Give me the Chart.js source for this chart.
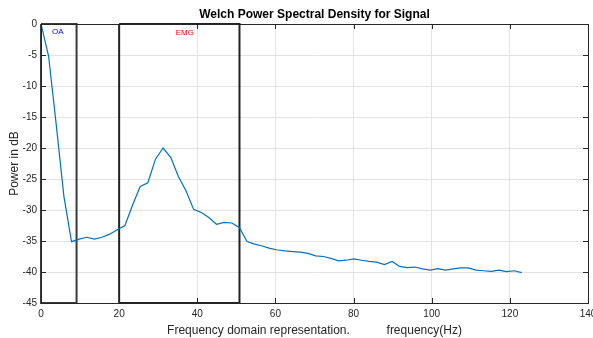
<!DOCTYPE html>
<html>
<head>
<meta charset="utf-8">
<script src="https://cdn.jsdelivr.net/npm/chart.js@4.4.1/dist/chart.umd.min.js"></script>
<style>
  body { margin: 0; background: #fff; }
  #wrap { width: 593px; height: 338px; }
</style>
</head>
<body>
<div id="wrap"><canvas id="psdChart"></canvas></div>
<script>
// Welch PSD estimate: frequency bins (Hz) and power (dB)
const freqHz = [
    0, 1.95, 3.91, 5.86, 7.81, 9.77, 11.72, 13.67, 15.63, 17.58,
    19.53, 21.48, 23.44, 25.39, 27.34, 29.30, 31.25, 33.20, 35.16, 37.11,
    39.06, 41.02, 42.97, 44.92, 46.88, 48.83, 50.78, 52.73, 54.69, 56.64,
    58.59, 60.55, 62.50, 64.45, 66.41, 68.36, 70.31, 72.27, 74.22, 76.17,
    78.13, 80.08, 82.03, 83.98, 85.94, 87.89, 89.84, 91.80, 93.75, 95.70,
    97.66, 99.61, 101.56, 103.52, 105.47, 107.42, 109.38, 111.33, 113.28, 115.23,
    117.19, 119.14, 121.09, 123.05
];
const powerDb = [
    0, -5.2, -16.3, -27.8, -35.1, -34.7, -34.4, -34.7, -34.4, -33.9,
    -33.2, -32.5, -29.2, -26.2, -25.6, -21.8, -20.0, -21.5, -24.6, -26.9,
    -29.9, -30.4, -31.2, -32.3, -32.0, -32.1, -32.8, -35.1, -35.5, -35.8,
    -36.2, -36.45, -36.6, -36.7, -36.8, -37.0, -37.4, -37.5, -37.8, -38.2,
    -38.1, -37.9, -38.1, -38.3, -38.4, -38.8, -38.3, -39.1, -39.3, -39.2,
    -39.5, -39.7, -39.45, -39.7, -39.5, -39.35, -39.35, -39.7, -39.8, -39.9,
    -39.7, -39.95, -39.8, -40.1
];

// marked frequency bands [from, to] in Hz and their labels
const oaBand = [0, 9.1];
const emgBand = [20, 50.8];
const bandLabels = ['OA', 'EMG'];
const bandLabelPos = [[4.3, -1.3], [36.8, -1.4]];
const bandLabelColors = ['#0000ff', '#ff0000'];

// axis limits
const xLimits = [0, 140];
const yLimits = [-45, 0];

const FONT = '"Liberation Sans", Arial, sans-serif';

function boxPoints(band) {
    return [
        { x: band[0], y: yLimits[1] },
        { x: band[1], y: yLimits[1] },
        { x: band[1], y: yLimits[0] },
        { x: band[0], y: yLimits[0] },
        { x: band[0], y: yLimits[1] }
    ];
}

const psdPoints = freqHz.map((f, i) => ({ x: f, y: powerDb[i] }));

// box outline, inward tick marks and band labels
const matlabAxes = {
    id: 'matlabAxes',
    afterDraw(chart) {
        const ctx = chart.ctx;
        const area = chart.chartArea;
        const xs = chart.scales.x;
        const ys = chart.scales.y;
        ctx.save();
        ctx.strokeStyle = '#262626';
        ctx.lineWidth = 1;
        ctx.beginPath();
        xs.ticks.forEach(t => {
            const px = Math.round(xs.getPixelForValue(t.value)) + 0.5;
            ctx.moveTo(px, area.bottom);
            ctx.lineTo(px, area.bottom - 5);
            ctx.moveTo(px, area.top);
            ctx.lineTo(px, area.top + 5);
        });
        ys.ticks.forEach(t => {
            const py = Math.round(ys.getPixelForValue(t.value)) + 0.5;
            ctx.moveTo(area.left, py);
            ctx.lineTo(area.left + 5, py);
            ctx.moveTo(area.right, py);
            ctx.lineTo(area.right - 5, py);
        });
        ctx.stroke();
        ctx.strokeRect(Math.round(area.left) + 0.5, Math.round(area.top) + 0.5,
            Math.round(area.right - area.left), Math.round(area.bottom - area.top));

        ctx.font = '8px ' + FONT;
        ctx.textAlign = 'center';
        ctx.textBaseline = 'middle';
        bandLabels.forEach((label, i) => {
            ctx.fillStyle = bandLabelColors[i];
            ctx.fillText(label, xs.getPixelForValue(bandLabelPos[i][0]), ys.getPixelForValue(bandLabelPos[i][1]));
        });
        ctx.restore();
    }
};

const ctx = document.getElementById('psdChart').getContext('2d');

const psdChart = new Chart(ctx, {
    type: 'scatter',
    data: {
        datasets: [{
            label: 'PSD',
            data: psdPoints,
            showLine: true,
            borderColor: '#0072bd',
            borderWidth: 1.2,
            pointRadius: 0,
            fill: false
        }, {
            label: 'OA',
            data: boxPoints(oaBand),
            showLine: true,
            borderColor: '#3a3a3a',
            borderWidth: 2,
            pointRadius: 0,
            clip: false
        }, {
            label: 'EMG',
            data: boxPoints(emgBand),
            showLine: true,
            borderColor: '#222222',
            borderWidth: 2,
            pointRadius: 0,
            clip: false
        }]
    },
    options: {
        responsive: true,
        maintainAspectRatio: false,
        animation: false,
        layout: {
            padding: { left: 0, right: 5, top: 0, bottom: 0 }
        },
        plugins: {
            legend: { display: false },
            tooltip: { enabled: false },
            title: {
                display: true,
                fullSize: false,
                text: 'Welch Power Spectral Density for Signal',
                color: '#000',
                font: { family: FONT, size: 12, weight: 'bold' },
                padding: { top: 7, bottom: 2.6 }
            }
        },
        scales: {
            x: {
                type: 'linear',
                min: xLimits[0],
                max: xLimits[1],
                ticks: {
                    stepSize: 20,
                    color: '#262626',
                    font: { family: FONT, size: 10 },
                    padding: 5,
                    maxRotation: 0
                },
                grid: { color: '#e3e3e3', drawTicks: false },
                border: { display: false },
                title: {
                    display: true,
                    text: 'Frequency domain representation.           frequency(Hz)',
                    color: '#262626',
                    font: { family: FONT, size: 12 },
                    padding: { top: 1, bottom: 0 }
                },
                afterFit(scale) {
                    scale.height = 35;
                    scale.paddingLeft = 0;
                    scale.paddingRight = 0;
                }
            },
            y: {
                type: 'linear',
                min: yLimits[0],
                max: yLimits[1],
                ticks: {
                    stepSize: 5,
                    color: '#262626',
                    font: { family: FONT, size: 10 },
                    padding: 4
                },
                grid: { color: '#e3e3e3', drawTicks: false },
                border: { display: false },
                title: {
                    display: true,
                    text: 'Power in dB',
                    color: '#262626',
                    font: { family: FONT, size: 12 },
                    padding: { top: 7, bottom: 0 }
                },
                afterFit(scale) {
                    scale.width = 41;
                    scale.paddingTop = 0;
                    scale.paddingBottom = 0;
                }
            }
        }
    },
    plugins: [matlabAxes]
});
</script>
</body>
</html>
